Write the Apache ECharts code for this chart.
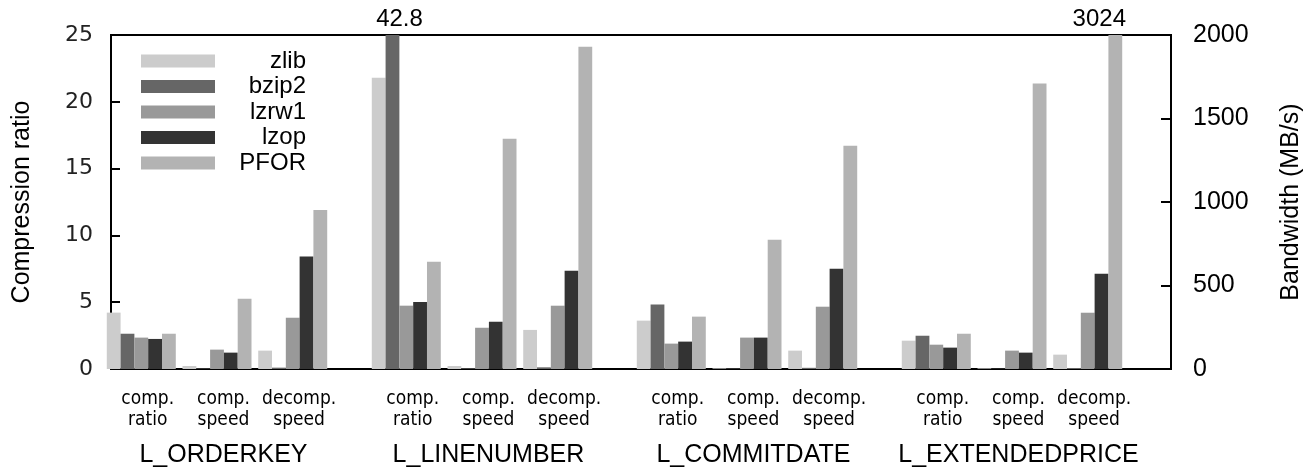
<!DOCTYPE html>
<html>
<head>
<meta charset="utf-8">
<script src="https://cdn.jsdelivr.net/npm/echarts@6/dist/echarts.min.js"></script>
<style>
  html, body { margin: 0; padding: 0; background: #fff; }
  #chart { width: 1304px; height: 467px; }
</style>
</head>
<body>
<div id="chart"></div>
<script>
// Columns of the lineitem table and the three measurements per column
const columns = ['L_ORDERKEY', 'L_LINENUMBER', 'L_COMMITDATE', 'L_EXTENDEDPRICE'];
const metrics = ['comp.\nratio', 'comp.\nspeed', 'decomp.\nspeed'];
const algorithms = ['zlib', 'bzip2', 'lzrw1', 'lzop', 'PFOR'];
const colors = ['#cccccc', '#666666', '#999999', '#333333', '#b3b3b3'];

// Compression ratio (left axis), one row per algorithm, one value per column
const compRatio = [
  [4.22, 21.8, 3.62, 2.12],   // zlib
  [2.64, 42.8, 4.82, 2.49],   // bzip2
  [2.35, 4.74, 1.90, 1.82],   // lzrw1
  [2.25, 5.01, 2.05, 1.60],   // lzop
  [2.64, 8.03, 3.92, 2.64]    // PFOR
];
// Compression bandwidth in MB/s (right axis)
const compSpeed = [
  [18, 18, 4, 4],
  [3, 4, 3, 2],
  [116, 247, 188, 110],
  [98, 283, 188, 98],
  [421, 1379, 774, 1709]
];
// Decompression bandwidth in MB/s (right axis)
const decompSpeed = [
  [110, 234, 110, 86],
  [8, 10, 7, 6],
  [307, 379, 373, 337],
  [673, 589, 601, 571],
  [952, 1930, 1337, 3024]
];

const ratioTicks = [0, 25, 5];      // min, max, step
const speedTicks = [0, 2000, 500];

// x position of a cluster: three clusters per column, half a slot between columns
const slotOf = (c, m) => c * (metrics.length + 0.5) + m;
const labelShift = 0.085;
const subTickValues = [];
const subTickNames = [];
columns.forEach((col, c) => metrics.forEach((m, k) => {
  subTickValues.push(slotOf(c, k) + labelShift);
  subTickNames.push(m);
}));
const groupTickValues = columns.map((col, c) => slotOf(c, 1) + labelShift);

function nearestName(values, names, v) {
  let best = 0;
  values.forEach((x, i) => { if (Math.abs(x - v) < Math.abs(values[best] - v)) best = i; });
  return names[best];
}

const BLACK = '#000';
const sans = "'Liberation Sans', Arial, sans-serif";
const narrow = "'DejaVu Sans Condensed', 'Liberation Sans Narrow', sans-serif";

function overflowLabel(dx) {
  return {
    show: true,
    position: 'top',
    distance: 4,
    offset: [dx, 0],
    color: BLACK,
    fontFamily: sans,
    fontSize: 24,
    formatter: p => String(p.value[1])
  };
}

const series = [];
algorithms.forEach((name, a) => {
  const ratioData = [];
  const speedData = [];
  columns.forEach((col, c) => {
    const r = compRatio[a][c];
    ratioData.push(r > ratioTicks[1]
      ? { value: [slotOf(c, 0), r], label: overflowLabel(7) }
      : [slotOf(c, 0), r]);
    speedData.push([slotOf(c, 0), null]);
    [compSpeed[a][c], decompSpeed[a][c]].forEach((s, k) => {
      ratioData.push([slotOf(c, k + 1), null]);
      speedData.push(s > speedTicks[1]
        ? { value: [slotOf(c, k + 1), s], label: overflowLabel(-16) }
        : [slotOf(c, k + 1), s]);
    });
  });
  const common = {
    name: name,
    type: 'bar',
    stack: name,
    barWidth: 13.8,
    barGap: '0%',
    clip: true,
    silent: true,
    itemStyle: { color: colors[a] },
    xAxisIndex: 0
  };
  series.push(Object.assign({}, common, { yAxisIndex: 0, data: ratioData }));
  series.push(Object.assign({}, common, { yAxisIndex: 1, data: speedData }));
});

const chart = echarts.init(document.getElementById('chart'), null, { renderer: 'canvas' });
chart.setOption({
  animation: false,
  backgroundColor: '#fff',
  grid: {
    left: 111, right: 133, top: 35, bottom: 98,
    show: true, borderColor: BLACK, borderWidth: 2,
    containLabel: false, outerBoundsMode: 'none'
  },
  legend: {
    data: algorithms,
    orient: 'vertical',
    left: 141, top: 49,
    padding: 0,
    itemGap: 1.5,
    itemWidth: 74, itemHeight: 13,
    icon: 'rect',
    selectedMode: false,
    formatter: n => '{t|' + n + '}',
    textStyle: {
      rich: {
        t: { width: 86, align: 'right', fontFamily: sans, fontSize: 24, lineHeight: 26, color: BLACK }
      }
    }
  },
  xAxis: [
    {
      type: 'value', min: -0.4, max: 13.6, position: 'bottom',
      axisLine: { show: true, onZero: false, lineStyle: { color: BLACK, width: 2 } },
      axisTick: { show: false },
      splitLine: { show: false },
      axisLabel: {
        customValues: subTickValues,
        formatter: v => nearestName(subTickValues, subTickNames, v),
        margin: 20,
        fontFamily: narrow,
        fontSize: 19, lineHeight: 21, color: BLACK
      }
    },
    {
      type: 'value', min: -0.4, max: 13.6, position: 'bottom',
      axisLine: { show: false },
      axisTick: { show: false },
      splitLine: { show: false },
      axisLabel: {
        customValues: groupTickValues,
        formatter: v => nearestName(groupTickValues, columns, v),
        margin: 74,
        fontFamily: sans, fontSize: 25, color: BLACK
      }
    }
  ],
  yAxis: [
    {
      type: 'value', position: 'left',
      min: ratioTicks[0], max: ratioTicks[1], interval: ratioTicks[2],
      name: 'Compression ratio', nameLocation: 'middle', nameGap: 76, nameMoveOverlap: false,
      nameTextStyle: { fontFamily: sans, fontSize: 25, color: BLACK },
      axisLine: { show: true, onZero: false, lineStyle: { color: BLACK, width: 2 } },
      axisTick: { show: true, inside: true, length: 9, lineStyle: { color: BLACK, width: 2 } },
      axisLabel: { margin: 18, fontFamily: "'DejaVu Sans', sans-serif", fontSize: 22, color: '#222' },
      splitLine: { show: false }
    },
    {
      type: 'value', position: 'right',
      min: speedTicks[0], max: speedTicks[1], interval: speedTicks[2],
      name: 'Bandwidth (MB/s)', nameLocation: 'middle', nameGap: 108, nameMoveOverlap: false,
      nameTextStyle: { fontFamily: sans, fontSize: 25, color: BLACK },
      axisLine: { show: true, onZero: false, lineStyle: { color: BLACK, width: 2 } },
      axisTick: { show: true, inside: true, length: 10, lineStyle: { color: BLACK, width: 2 } },
      axisLabel: { margin: 22, fontFamily: sans, fontSize: 25, color: BLACK, formatter: v => String(v) },
      splitLine: { show: false }
    }
  ],
  series: series
});
</script>
</body>
</html>
